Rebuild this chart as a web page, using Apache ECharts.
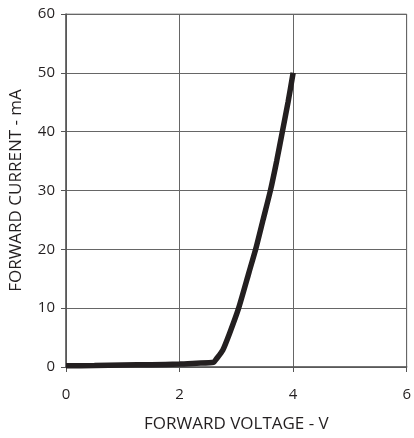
<!DOCTYPE html>
<html>
<head>
<meta charset="utf-8">
<script src="https://cdn.jsdelivr.net/npm/echarts@6/dist/echarts.min.js"></script>
<style>
html,body{margin:0;padding:0;background:#fff;}
#chart{width:414px;height:438px;}
</style>
</head>
<body>
<div id="chart"></div>
<script>
// forward voltage (V) vs forward current (mA)
var voltage = [0, 0.5, 1, 1.5, 2, 2.3, 2.6, 2.65, 2.76, 2.88, 3.04, 3.22, 3.34, 3.47, 3.6, 3.71, 3.81, 3.91, 4.0];
var current = [0.2, 0.25, 0.35, 0.4, 0.5, 0.65, 0.8, 1.4, 2.85, 5.7, 10, 16, 20, 25, 30, 35, 40, 45, 50];
var xTicks = [0, 2, 4, 6];
var yTicks = [0, 10, 20, 30, 40, 50, 60];

function display_iv(){
    var chart = echarts.init(document.getElementById('chart'));
    var pts = [];
    for (var i = 0; i < voltage.length; i++) {
        pts.push([voltage[i], current[i]]);
    }
    var font = 'Open Sans';
    var option = {
        animation: false,
        grid: {left: 66, right: 6, top: 14, bottom: 71, show: true, borderColor: '#999', borderWidth: 1},
        xAxis: {
            type: 'value',
            min: xTicks[0], max: xTicks[xTicks.length - 1], interval: 2,
            name: 'FORWARD VOLTAGE - V',
            nameLocation: 'middle', nameGap: 49,
            nameTextStyle: {fontFamily: font, fontSize: 17, color: '#231f20'},
            axisLine: {show: true, lineStyle: {color: '#555', width: 1.5}},
            axisTick: {show: true, length: 5, lineStyle: {color: '#555'}},
            axisLabel: {fontFamily: font, fontSize: 15, color: '#231f20', margin: 20},
            splitLine: {show: true, lineStyle: {color: '#666', width: 1}}
        },
        yAxis: {
            type: 'value',
            min: yTicks[0], max: yTicks[yTicks.length - 1], interval: 10,
            name: 'FORWARD CURRENT - mA',
            nameLocation: 'middle', nameGap: 41,
            nameTextStyle: {fontFamily: font, fontSize: 17, color: '#231f20'},
            axisLine: {show: true, lineStyle: {color: '#555', width: 1.5}},
            axisTick: {show: true, length: 5, lineStyle: {color: '#555'}},
            axisLabel: {fontFamily: font, fontSize: 15, color: '#231f20', margin: 11},
            splitLine: {show: true, lineStyle: {color: '#666', width: 1}}
        },
        series: [{
            type: 'line',
            data: pts,
            smooth: 0.2,
            showSymbol: false,
            lineStyle: {color: '#231f20', width: 5.5}
        }]
    };
    chart.setOption(option);
}
display_iv();
</script>
</body>
</html>
